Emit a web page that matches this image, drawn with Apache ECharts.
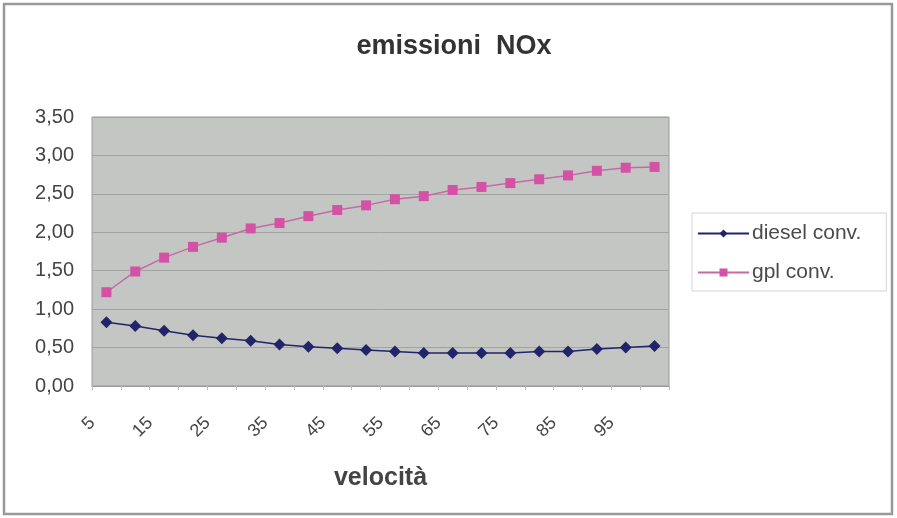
<!DOCTYPE html>
<html>
<head>
<meta charset="utf-8">
<title>emissioni NOx</title>
<script src="https://cdn.jsdelivr.net/npm/echarts@6/dist/echarts.min.js"></script>
<style>
  html, body { margin: 0; padding: 0; background: #fff; }
  #chart { width: 897px; height: 518px; }
</style>
</head>
<body>
<div id="chart"></div>
<script>
// velocità (km/h)
var velocita = ['5', '10', '15', '20', '25', '30', '35', '40', '45', '50',
                '55', '60', '65', '70', '75', '80', '85', '90', '95', '100'];
// emissioni NOx
var dieselConv = [0.83, 0.78, 0.72, 0.66, 0.62, 0.59, 0.54, 0.51, 0.49, 0.47,
                  0.45, 0.43, 0.43, 0.43, 0.43, 0.45, 0.45, 0.48, 0.50, 0.52];
var gplConv = [1.22, 1.49, 1.67, 1.81, 1.93, 2.05, 2.12, 2.21, 2.29, 2.35,
               2.43, 2.47, 2.55, 2.59, 2.64, 2.69, 2.74, 2.80, 2.84, 2.85];

var myChart = echarts.init(document.getElementById('chart'));
var font = 'Liberation Sans, Arial, sans-serif';

var option = {
    backgroundColor: '#fff',
    animation: false,
    textStyle: { fontFamily: font },
    title: {
        text: 'emissioni  NOx',
        left: 449,
        top: 28,
        textAlign: 'center',
        textStyle: { fontSize: 27, fontWeight: 'bold', color: '#333', fontFamily: font }
    },
    graphic: [{
        type: 'rect',
        shape: { x: 4, y: 4, width: 888, height: 510 },
        style: { fill: 'none', stroke: '#999', lineWidth: 2.5 },
        silent: true
    }],
    legend: {
        orient: 'vertical',
        left: 692,
        top: 213,
        padding: [10, 25, 8, 5],
        itemGap: 18,
        itemWidth: 51,
        itemHeight: 10,
        borderColor: '#d4d4d4',
        borderWidth: 1,
        textStyle: { fontSize: 21, color: '#4a4a4a', fontFamily: font, padding: [0, 0, 0, -2] },
        data: ['diesel conv.', 'gpl conv.']
    },
    grid: {
        left: 92,
        top: 117,
        right: 228,
        bottom: 132,
        show: true,
        backgroundColor: '#c4c6c4',
        borderColor: '#9a9a9a',
        borderWidth: 1
    },
    xAxis: {
        type: 'category',
        data: velocita,
        boundaryGap: true,
        name: 'velocità',
        nameLocation: 'middle',
        nameGap: 80,
        nameTextStyle: { fontSize: 25, fontWeight: 'bold', color: '#444', fontFamily: font },
        axisLine: { lineStyle: { color: '#9a9a9a' } },
        axisTick: { show: true, interval: 0, length: 4, lineStyle: { color: '#bbb' } },
        axisLabel: {
            interval: 1,
            rotate: 45,
            margin: 20,
            padding: [17, 20, 0, 0],
            fontSize: 18,
            color: '#444'
        },
        splitLine: { show: false }
    },
    yAxis: {
        type: 'value',
        min: 0,
        max: 3.5,
        interval: 0.5,
        axisLine: { show: false },
        axisTick: { show: false },
        axisLabel: {
            fontSize: 20,
            color: '#444',
            margin: 18,
            formatter: function (v) { return v.toFixed(2).replace('.', ','); }
        },
        splitLine: { lineStyle: { color: '#a2a4a2', width: 1 } }
    },
    series: [{
        name: 'diesel conv.',
        type: 'line',
        data: dieselConv,
        symbol: 'diamond',
        symbolSize: 12,
        color: '#23236a',
        lineStyle: { color: '#23236a', width: 1.5 },
        itemStyle: { color: '#23236a' }
    }, {
        name: 'gpl conv.',
        type: 'line',
        data: gplConv,
        symbol: 'rect',
        symbolSize: 10,
        color: '#d452a6',
        lineStyle: { color: '#c66aa6', width: 1.5 },
        itemStyle: { color: '#d452a6' }
    }]
};

myChart.setOption(option);
</script>
</body>
</html>
